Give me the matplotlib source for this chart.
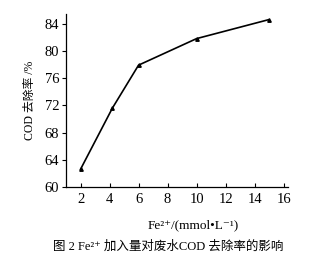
import matplotlib
matplotlib.use("Agg")
import matplotlib.pyplot as plt

fe_dose = [2, 4.2, 6, 10, 15]
cod_removal = [62.6, 71.6, 77.9, 81.8, 84.6]
x_ticks = [2, 4, 6, 8, 10, 12, 14, 16]
y_ticks = [60, 64, 68, 72, 76, 80, 84]

fam = ['Liberation Serif', 'DejaVu Serif', 'Noto Sans CJK SC']
plt.rcParams['font.family'] = fam

fig = plt.figure(figsize=(3.09, 2.61), dpi=100)
ax = fig.add_axes([0.2136, 0.2835, 0.932 - 0.2136, 0.946 - 0.2835])
ax.plot(fe_dose, cod_removal, color='black', lw=1.2, marker='^', ms=2.5)
ax.set_xlim(1.0, 16.3)
ax.set_ylim(60, 85.4)
ax.set_xticks(x_ticks)
ax.set_yticks(y_ticks)
ax.spines['top'].set_visible(False)
ax.spines['right'].set_visible(False)
ax.spines['left'].set_linewidth(0.9)
ax.spines['bottom'].set_linewidth(0.9)
ax.tick_params(axis='x', direction='in', length=3, labelsize=10.5, pad=4)
ax.tick_params(axis='y', direction='out', length=3, labelsize=10.5, pad=2)
ax.set_ylabel('COD 去除率 /%', fontsize=8.5, labelpad=6)
fig.text(0.625, 0.138, 'Fe²⁺/(mmol•L⁻¹)', ha='center', va='center', fontsize=9.5)
fig.text(0.545, 0.054, '图 2 Fe²⁺ 加入量对废水COD 去除率的影响', ha='center', va='center', fontsize=9)
fig.savefig('out.png', dpi=100)
